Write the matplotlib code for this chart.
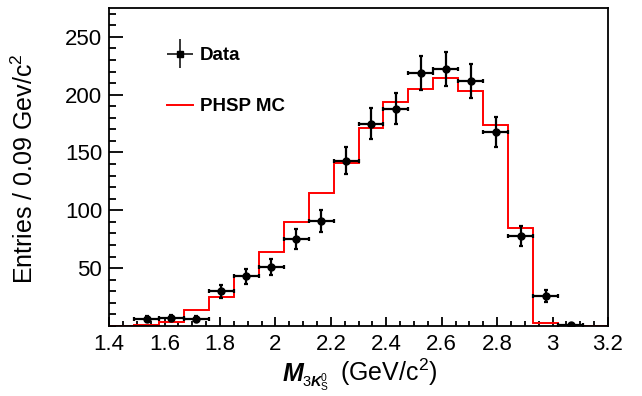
import numpy as np
import matplotlib
matplotlib.use("Agg")
import matplotlib.pyplot as plt
from matplotlib.ticker import MultipleLocator, FixedLocator
from matplotlib.legend_handler import HandlerErrorbar
from matplotlib.container import ErrorbarContainer

plt.rcParams['font.family'] = ['Liberation Sans', 'DejaVu Sans']
plt.rcParams['mathtext.fontset'] = 'custom'
plt.rcParams['mathtext.rm'] = 'Liberation Sans'
plt.rcParams['mathtext.it'] = 'Liberation Sans:italic'
plt.rcParams['mathtext.bf'] = 'Liberation Sans:bold'
try:
    plt.rcParams['mathtext.bfit'] = 'Liberation Sans:bold:italic'
except KeyError:
    pass

# ---- data ----
# MC histogram bin edges (GeV/c^2) and contents
mc_edges = [1.40, 1.49, 1.58, 1.67, 1.76, 1.85, 1.94, 2.03, 2.12, 2.21, 2.30,
            2.39, 2.48, 2.57, 2.66, 2.75, 2.84, 2.93, 3.02, 3.11, 3.20]
mc_counts = [0, 1, 3.5, 13.5, 25, 43, 64, 90, 115, 141, 171,
             194, 205, 214, 203, 174, 85, 2.5, 0.5, 0]

# data points (bin centres, counts, errors)
data_x = [1.535, 1.625, 1.715, 1.805, 1.895, 1.985, 2.075, 2.165, 2.255,
          2.345, 2.435, 2.525, 2.615, 2.705, 2.795, 2.885, 2.975, 3.065]
data_y = [6, 7, 6, 30, 43, 51, 75, 91, 143,
          175, 188, 219, 222, 212, 168, 78, 26, 1]
data_yerr = [2.4, 2.6, 2.4, 5.5, 6.6, 7.1, 8.7, 9.5, 12.0,
             13.2, 13.7, 14.8, 14.9, 14.6, 13.0, 8.8, 5.1, 1.0]
data_xerr = 0.045

x_ticks = [1.4, 1.6, 1.8, 2.0, 2.2, 2.4, 2.6, 2.8, 3.0, 3.2]
x_ticklabels = ['1.4', '1.6', '1.8', '2', '2.2', '2.4', '2.6', '2.8', '3', '3.2']
y_ticks = [50, 100, 150, 200, 250]

W, H = 642, 396
fig = plt.figure(figsize=(W / 100, H / 100), dpi=100)
ax = fig.add_axes([0.170, 0.177, 0.777, 0.803])

mc_art = ax.stairs(mc_counts, mc_edges, color='#ff0000', lw=1.4, baseline=None,
                   label='PHSP MC', zorder=2)

eb = ax.errorbar(data_x, data_y, xerr=data_xerr, yerr=data_yerr, fmt='o',
                 color='black', ms=5, elinewidth=1.6, capsize=1.7,
                 capthick=1.6, zorder=3)

# legend proxy for data (square marker, no caps)
proxy = ax.errorbar([], [], xerr=[], yerr=[], fmt='s', color='black', ms=4,
                    elinewidth=1.1, capsize=0)

leg = ax.legend([proxy, mc_art], ['Data', 'PHSP MC'], loc='upper left',
                bbox_to_anchor=(0.116, 0.877), frameon=False,
                borderpad=0, borderaxespad=0, handlelength=1.39,
                handletextpad=0.37, labelspacing=1.81,
                prop={'size': 13.5, 'weight': 'bold'},
                handler_map={ErrorbarContainer: HandlerErrorbar(xerr_size=0.69, yerr_size=0.77)})

ax.set_xlim(1.4, 3.2)
ax.set_ylim(0, 275)
ax.set_xticks(x_ticks)
ax.set_xticklabels(x_ticklabels)
ax.xaxis.set_minor_locator(MultipleLocator(0.05))
ax.yaxis.set_major_locator(FixedLocator(y_ticks))
ax.yaxis.set_minor_locator(MultipleLocator(10))

ax.tick_params(axis='both', which='both', direction='in', top=False, right=False,
               labelsize=16, width=1.3, color='black')
ax.tick_params(axis='y', which='major', length=10, pad=5)
ax.tick_params(axis='y', which='minor', length=5)
ax.tick_params(axis='x', which='major', length=6.5, pad=6)
ax.tick_params(axis='x', which='minor', length=3.3)
for s in ax.spines.values():
    s.set_linewidth(1.3)

# y axis title
fig.text(33 / W, 1 - 284 / H, 'Entries / 0.09 Gev/c$^{2}$', fontsize=18,
         rotation=90, rotation_mode='anchor', ha='left', va='baseline')

# x axis title, built from pieces
fig.text(282 / W, 1 - 381 / H, r'$\mathbfit{M}$', fontsize=18,
         ha='left', va='baseline')
fig.text(302 / W, 1 - 387 / H, r'$3\mathbfit{K}^{0}_{\mathrm{S}}$', fontsize=10.5,
         ha='left', va='baseline')
fig.text(340 / W, 1 - 381 / H, '(GeV/c$^{2}$)', fontsize=18,
         ha='left', va='baseline')

fig.savefig('out.png', dpi=100)
